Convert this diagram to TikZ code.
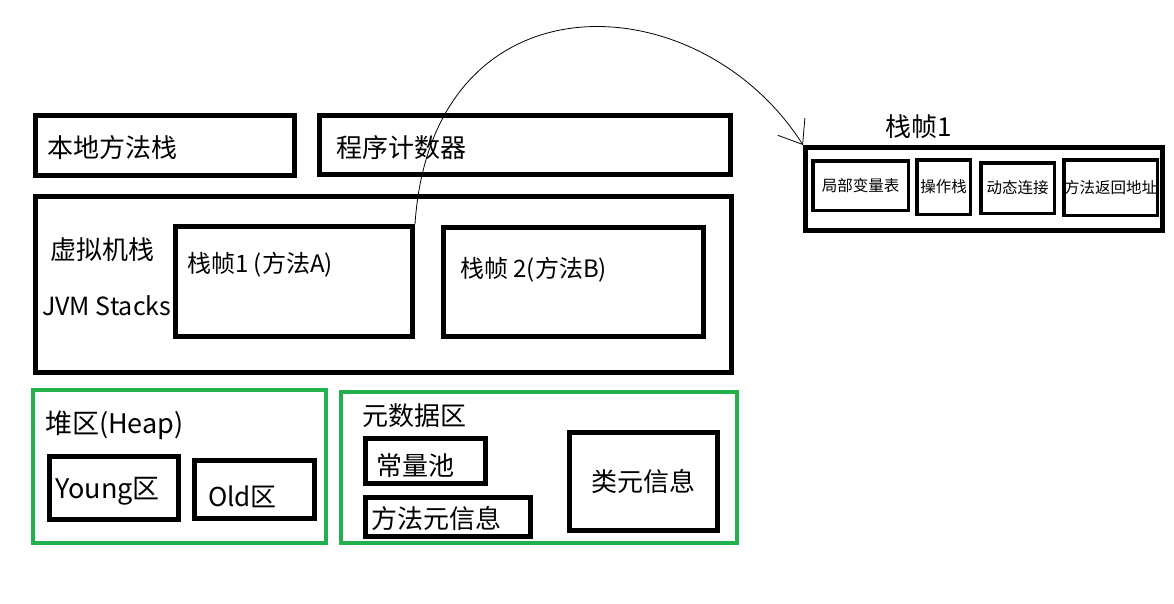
\documentclass[tikz,border=0pt]{standalone}
\usepackage{fontspec}
\setmainfont{Noto Sans CJK SC}
\usetikzlibrary{arrows.meta}
\definecolor{paintgreen}{HTML}{22B14C}
\tikzset{
  box/.style={draw,line width=5pt,inner sep=0pt},
  gbox/.style={draw=paintgreen,line width=4pt,inner sep=0pt},
  sbox/.style={draw,line width=3.5pt,inner sep=0pt,font=\fontsize{15.5}{16}\selectfont},
  lbl/.style={anchor=west,inner sep=0pt,font=\fontsize{26}{27}\selectfont},
  arc/.style={line width=0.8pt,-{Straight Barb[length=21pt,width=32pt,line width=0.8pt]}}
}
\begin{document}
\begin{tikzpicture}[x=1pt,y=-1pt]
        \useasboundingbox (0,0) rectangle (1174,603);
        % upper row
        \node[box,minimum width=259,minimum height=60] (native) at (165,145.5) {};
        \node[box,minimum width=411,minimum height=59] (pc) at (525,145) {};
        \node[lbl] (nativetxt) at (47,148) {本地方法栈};
        \node[lbl] (pctxt) at (336,148) {程序计数器};
        % vm stacks
        \node[box,minimum width=696,minimum height=176] (vms) at (383.5,284.5) {};
        \node[box,minimum width=237,minimum height=110] (frameA) at (294,281.5) {};
        \node[box,minimum width=260,minimum height=109] (frameB) at (573.5,282) {};
        \node[lbl] (vmstxt) at (50,250) {虚拟机栈};
        \node[lbl,font=\fontsize{25}{26}\selectfont] (jvmtxt) at (42,306) {JVM Stacks};
        \node[lbl,font=\fontsize{24}{25}\selectfont] (frameAtxt) at (187,265) {栈帧1 (方法A)};
        \node[lbl,font=\fontsize{24}{25}\selectfont] (frameBtxt) at (460,270) {栈帧 2(方法B)};
        % heap
        \node[gbox,minimum width=293,minimum height=153] (heap) at (179.5,466.5) {};
        \node[box,minimum width=129,minimum height=63] (young) at (114,488) {};
        \node[box,minimum width=120,minimum height=58] (old) at (254.5,489.5) {};
        \node[lbl,font=\fontsize{27}{28}\selectfont] (heaptxt) at (45,425) {堆区(Heap)};
        \node[lbl,font=\fontsize{27}{28}\selectfont] (youngtxt) at (55,491) {Young区};
        \node[lbl] (oldtxt) at (208,497) {Old区};
        % metaspace
        \node[gbox,minimum width=396,minimum height=151] (meta) at (539,467.5) {};
        \node[box,minimum width=120,minimum height=45] (pool) at (425.5,461) {};
        \node[box,minimum width=165,minimum height=39] (mmeta) at (448,517) {};
        \node[box,minimum width=148,minimum height=98,font=\fontsize{26}{27}\selectfont] (cmeta) at (643.5,481.5) {类元信息};
        \node[lbl] (metatxt) at (362,416) {元数据区};
        \node[lbl] (pooltxt) at (376,466) {常量池};
        \node[lbl] (mmetatxt) at (371,519) {方法元信息};
        % frame detail
        \node[lbl] (f1txt) at (885,127) {栈帧1};
        \node[box,minimum width=357,minimum height=83] (f1box) at (984,189) {};
        \node[sbox,minimum width=95.5,minimum height=49.5] (locals) at (860.5,185.5) {局部变量表};
        \node[sbox,minimum width=53.5,minimum height=54.5] (opstack) at (943.5,187) {操作栈};
        \node[sbox,minimum width=73.5,minimum height=50.5] (dynlink) at (1017.5,188) {动态连接};
        \node[sbox,minimum width=93.5,minimum height=55.5] (retaddr) at (1110.5,187.5) {方法返回地址};
    
        \draw[arc] (frameA.north east) .. controls +(17,-253) and +(-105,-165) .. (f1box.north west);
    \end{tikzpicture}
\end{document}
